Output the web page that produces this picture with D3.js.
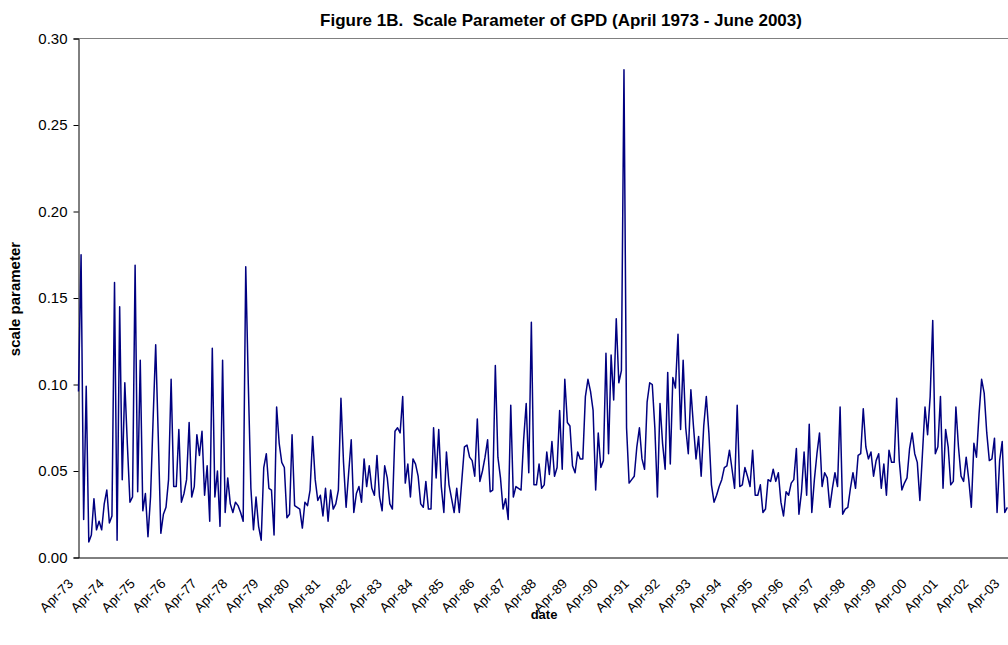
<!DOCTYPE html>
<html>
<head>
<meta charset="utf-8">
<script src="https://cdn.jsdelivr.net/npm/d3@7"></script>
<style>
  body { margin: 0; background: #fff; }
  svg text { font-family: "Liberation Sans", Arial, sans-serif; }
</style>
</head>
<body>
<div id="chart"></div>
<script>
// monthly scale parameter, April 1973 onwards
const values = [
  0.096,0.175,0.022,0.099,0.009,0.013,0.034,0.016,0.021,0.016,
  0.031,0.039,0.020,0.024,0.159,0.010,0.145,0.045,0.101,0.065,
  0.032,0.035,0.169,0.038,0.114,0.027,0.037,0.012,0.035,0.080,
  0.123,0.070,0.014,0.025,0.029,0.045,0.103,0.041,0.041,0.074,
  0.032,0.037,0.045,0.078,0.035,0.041,0.071,0.059,0.073,0.036,
  0.053,0.021,0.121,0.035,0.050,0.018,0.114,0.026,0.046,0.031,
  0.026,0.032,0.030,0.026,0.021,0.168,0.100,0.040,0.016,0.035,
  0.018,0.010,0.052,0.060,0.040,0.039,0.013,0.087,0.066,0.055,
  0.052,0.023,0.025,0.071,0.030,0.029,0.028,0.017,0.032,0.030,
  0.039,0.070,0.045,0.033,0.036,0.024,0.040,0.021,0.039,0.028,
  0.031,0.039,0.092,0.055,0.029,0.049,0.068,0.026,0.037,0.041,
  0.032,0.057,0.041,0.053,0.040,0.036,0.059,0.035,0.027,0.053,
  0.046,0.031,0.028,0.073,0.075,0.072,0.093,0.043,0.054,0.035,
  0.057,0.054,0.047,0.031,0.029,0.044,0.028,0.028,0.075,0.046,
  0.074,0.041,0.026,0.061,0.042,0.034,0.026,0.040,0.026,0.045,
  0.064,0.065,0.058,0.056,0.047,0.080,0.044,0.050,0.058,0.068,
  0.038,0.039,0.111,0.058,0.046,0.028,0.034,0.022,0.088,0.035,
  0.041,0.040,0.039,0.068,0.089,0.049,0.136,0.042,0.042,0.054,
  0.040,0.042,0.061,0.048,0.067,0.047,0.052,0.085,0.051,0.103,
  0.078,0.076,0.053,0.049,0.061,0.057,0.057,0.093,0.103,0.096,
  0.085,0.039,0.072,0.052,0.056,0.118,0.060,0.117,0.091,0.138,
  0.101,0.108,0.282,0.075,0.043,0.045,0.047,0.064,0.075,0.057,
  0.051,0.090,0.101,0.100,0.075,0.035,0.089,0.066,0.051,0.107,
  0.054,0.104,0.098,0.129,0.074,0.114,0.075,0.060,0.097,0.076,
  0.057,0.070,0.047,0.076,0.093,0.072,0.042,0.032,0.036,0.041,
  0.045,0.052,0.053,0.062,0.051,0.040,0.088,0.041,0.042,0.052,
  0.047,0.041,0.062,0.036,0.036,0.042,0.026,0.028,0.045,0.044,
  0.051,0.044,0.049,0.032,0.024,0.038,0.036,0.043,0.045,0.063,
  0.025,0.038,0.061,0.036,0.077,0.026,0.045,0.060,0.072,0.041,
  0.049,0.046,0.029,0.040,0.049,0.041,0.087,0.025,0.028,0.029,
  0.040,0.049,0.040,0.059,0.060,0.086,0.064,0.057,0.061,0.047,
  0.056,0.060,0.040,0.054,0.036,0.062,0.055,0.055,0.092,0.056,
  0.039,0.043,0.046,0.063,0.072,0.060,0.055,0.033,0.060,0.087,
  0.071,0.093,0.137,0.060,0.064,0.093,0.040,0.074,0.064,0.042,
  0.044,0.087,0.064,0.047,0.044,0.058,0.045,0.029,0.066,0.058,
  0.083,0.103,0.095,0.072,0.056,0.057,0.069,0.026,0.056,0.067,
  0.026,0.029
];

// category axis: every month April 1973 - June 2003
const months = d3.timeMonth.range(new Date(1973, 3, 1), new Date(2003, 6, 1));
const fmtMonth = d3.timeFormat("%b-%y");
const categories = months.map(fmtMonth);
const tickLabels = categories.filter((c, i) => i % 12 == 0);   // Apr-73 ... Apr-03
const yTicks = [0, 0.05, 0.10, 0.15, 0.20, 0.25, 0.30];

const titleText = "Figure 1B.  Scale Parameter of GPD (April 1973 - June 2003)";
const xTitle = "date", yTitle = "scale parameter";

let W = 1008, H = 645;
let plot = {left: 78.5, top: 38.5, bottom: 557.5};

let svg = d3.select("#chart").append("svg")
  .attr("width", W).attr("height", H);

let xScale = d3.scalePoint()
  .domain(categories)
  .range([plot.left, plot.left + (categories.length - 1) * 2.573]);

let yScale = d3.scaleLinear()
  .domain([0, 0.30])
  .range([plot.bottom, plot.top]);

// plot area border (top)
svg.append("line")
  .attr("x1", plot.left).attr("x2", W + 5)
  .attr("y1", plot.top).attr("y2", plot.top)
  .attr("stroke", "#808080").attr("stroke-width", 1);

// y axis
let yAxis = d3.axisLeft(yScale)
  .tickValues(yTicks)
  .tickSize(5)
  .tickFormat(d3.format(".2f"));

let gy = svg.append("g")
  .attr("transform", "translate(" + plot.left + ",0)")
  .call(yAxis);
gy.select(".domain").attr("stroke", "#000");
gy.selectAll(".tick line").attr("stroke", "#000");
gy.selectAll(".tick text")
  .attr("x", -11)
  .style("font-size", "15px")
  .attr("fill", "#000");

// x axis
let xAxis = d3.axisBottom(xScale)
  .tickValues(tickLabels)
  .tickSize(0)
  .tickFormat(d => "Apr-" + d.slice(4));

let gx = svg.append("g")
  .attr("transform", "translate(0," + plot.bottom + ")")
  .call(xAxis);
gx.select(".domain").attr("stroke", "#000").attr("d", "M" + plot.left + ",0.5H" + (W + 5));
gx.selectAll(".tick text")
  .attr("y", 0).attr("dy", 0)
  .attr("transform", "translate(-5,27) rotate(-45)")
  .style("text-anchor", "end")
  .style("font-size", "13.5px")
  .attr("fill", "#000");

// the series
let line = d3.line()
  .x((d, i) => xScale(categories[i]))
  .y(d => yScale(d));

svg.append("path")
  .datum(values)
  .attr("fill", "none")
  .attr("stroke", "#000080")
  .attr("stroke-width", 1.5)
  .attr("stroke-linejoin", "round")
  .attr("d", line);

// titles
svg.append("text")
  .attr("x", 561).attr("y", 26)
  .style("text-anchor", "middle")
  .style("font-weight", "bold")
  .style("font-size", "17px")
  .style("white-space", "pre")
  .text(titleText);

svg.append("text")
  .attr("x", 544).attr("y", 619)
  .style("text-anchor", "middle")
  .style("font-weight", "bold")
  .style("font-size", "13px")
  .text(xTitle);

svg.append("text")
  .attr("transform", "translate(20,299) rotate(-90)")
  .style("text-anchor", "middle")
  .style("font-weight", "bold")
  .style("font-size", "15px")
  .text(yTitle);
</script>
</body>
</html>
